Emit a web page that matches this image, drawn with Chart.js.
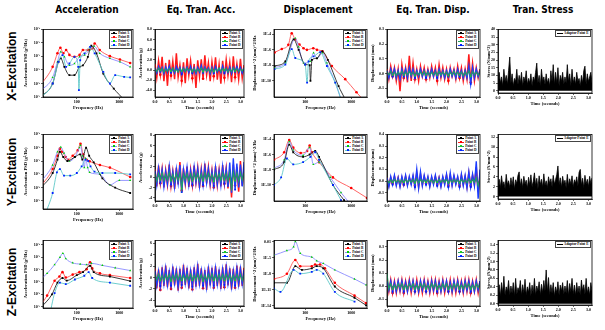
<!DOCTYPE html>
<html>
<head>
<meta charset="utf-8">
<script src="https://cdn.jsdelivr.net/npm/chart.js@4.4.1/dist/chart.umd.min.js"></script>
<style>
  html, body { margin: 0; padding: 0; background: #fff; }
  #page { position: relative; width: 605px; height: 330px; overflow: hidden; }
  canvas { position: absolute; }
  .col-title { position: absolute; top: 4px; font: bold 10px "Liberation Sans Narrow", "DejaVu Sans Condensed", sans-serif; transform: translateX(-50%); white-space: nowrap; }
  .row-title { position: absolute; font: bold 12px "Liberation Sans", Arial, sans-serif; transform: translate(-50%, -50%) rotate(-90deg); white-space: nowrap; }
  .legend { position: absolute; z-index: 5; border: 0.5px solid #444; background: #fff; padding: 0.5px 1px; font: bold 3.5px "Liberation Serif", serif; line-height: 4px; }
  .legend div { display: flex; align-items: center; white-space: nowrap; }
  .legend i { display: inline-block; position: relative; width: 6px; height: 0.8px; margin-right: 1px; }
  .legend i b { position: absolute; left: 2px; top: -0.7px; width: 2px; height: 2px; }
</style>
</head>
<body>
<div id="page">
  <div class="col-title" style="left:87px">Acceleration</div>
  <div class="col-title" style="left:201px">Eq. Tran. Acc.</div>
  <div class="col-title" style="left:318px">Displacement</div>
  <div class="col-title" style="left:433px">Eq. Tran. Disp.</div>
  <div class="col-title" style="left:543px">Tran. Stress</div>
  <div class="row-title" style="left:12px; top:66px">X-Excitation</div>
  <div class="row-title" style="left:12px; top:172px">Y-Excitation</div>
  <div class="row-title" style="left:12px; top:282px">Z-Excitation</div>
</div>
<script>
// ---- tick labels ----
const freqTicks = [100, 1000];
const timeTicks = [0, 0.5, 1, 1.5, 2, 2.5, 3];
const accPsdTicks = [1e-7, 1e-6, 1e-5, 1e-4, 1e-3, 1e-2];
const dispPsdTicksX = [1e-10, 1e-8, 1e-6, 1e-4];
const dispPsdTicksY = [1e-10, 1e-8, 1e-6, 1e-4];
const dispPsdTicksZ = [1e-14, 1e-11, 1e-8, 1e-5, 1e-2];
const eqAccTicksX = [-4, -2, 0, 2, 4, 6, 8];
const eqAccTicksY = [-4, -2, 0, 2, 4, 6, 8];
const eqAccTicksZ = [-4, -2, 0, 2, 4, 6];
const eqDispTicksX = [-0.1, 0, 0.1, 0.2, 0.3];
const eqDispTicksY = [-0.1, 0, 0.1, 0.2, 0.3, 0.4];
const eqDispTicksZ = [-0.1, 0, 0.1, 0.2, 0.3];
const stressTicksX = [0, 5, 10, 15, 20, 25, 30, 35, 40];
const stressTicksY = [0, 2, 4, 6, 8, 10, 12];
const stressTicksZ = [0, 0.2, 0.4, 0.6, 0.8, 1.0, 1.2, 1.4];

const pointNames = ['Point A', 'Point B', 'Point C', 'Point D'];
const stressNames = ['Adaptor Point E'];

// ---- acceleration PSD, [frequency Hz, g^2/Hz] ----
const accX_A = [[14, 1e-7], [27, 1e-6], [37, 4e-5], [42, 7.1e-5], [51, 1.7e-5], [67, 4.1e-6], [88, 4.1e-6], [116, 1.7e-5], [139, 2.2e-5], [182, 9.3e-5], [219, 6.2e-4], [290, 1.7e-4], [420, 5.4e-6], [740, 4.2e-7], [1300, 5.6e-8], [1800, 1e-8]];
const accX_B = [[14, 7.4e-7], [27, 1.7e-5], [35, 1.7e-4], [41, 4.4e-4], [48, 1.7e-4], [56, 3e-4], [67, 1.3e-4], [88, 9.3e-5], [116, 1.3e-4], [139, 3e-4], [182, 3e-4], [233, 3.9e-4], [263, 9.1e-4], [346, 3e-4], [600, 1.05e-4], [1035, 5.9e-5], [1800, 3.3e-5]];
const accX_C = [[14, 2.8e-7], [27, 2.8e-6], [35, 4e-5], [42, 2.2e-4], [51, 9.3e-5], [67, 2.2e-5], [88, 3e-5], [116, 9.3e-5], [152, 1.26e-4], [200, 3e-4], [255, 5.8e-4], [346, 1.7e-4], [600, 7.1e-5], [1035, 4e-5], [1800, 1.7e-5]];
const accX_D = [[14, 9e-8], [27, 1e-6], [37, 4e-5], [46, 1.26e-4], [56, 1.7e-5], [67, 3e-5], [88, 9.3e-5], [108, 1.7e-5], [112, 3.2e-7], [120, 5.2e-5], [152, 1.7e-4], [205, 5.1e-4], [263, 1.7e-4], [420, 7.2e-6], [600, 1e-6], [800, 4.1e-6], [1300, 3.1e-6], [1800, 2.8e-6]];

const accY_A = [[14, 9e-7], [27, 1.26e-5], [35, 1.26e-4], [40, 5e-4], [48, 2e-4], [60, 1e-4], [90, 2e-4], [120, 3.2e-4], [135, 1.26e-4], [165, 1e-3], [195, 2.5e-4], [250, 8e-5], [400, 5e-6], [800, 1e-6], [1800, 4e-7]];
const accY_B = [[14, 1.2e-6], [27, 2.5e-5], [35, 2.5e-4], [40, 8.5e-4], [45, 5e-4], [55, 2e-4], [62, 1.26e-4], [80, 2.5e-4], [105, 6.3e-4], [122, 1.95e-3], [140, 3.2e-4], [170, 1.26e-4], [200, 9.5e-5], [350, 5e-5], [600, 3.2e-5], [1800, 6.3e-6]];
const accY_C = [[14, 2.5e-6], [27, 5e-5], [35, 5e-4], [42, 1.1e-3], [50, 4e-4], [67, 1e-4], [90, 2e-4], [115, 1e-3], [122, 1.5e-3], [135, 2.5e-4], [150, 3.2e-5], [160, 1.6e-4], [180, 3.2e-5], [200, 1.4e-5], [350, 1e-5], [600, 1.6e-6], [1000, 3.5e-6], [1800, 3.5e-6]];
const accY_D = [[18, 1e-8], [27, 4e-7], [34, 1.4e-5], [40, 2.5e-5], [50, 8e-6], [70, 8e-6], [100, 1.26e-5], [130, 4e-5], [160, 1.26e-4], [185, 1e-4], [210, 4e-5], [260, 1.6e-5], [400, 1.26e-5], [800, 1.26e-5], [1800, 1e-5]];

const accZ_A = [[14, 8e-8], [26, 1e-6], [35, 8.9e-6], [46, 2.1e-5], [58, 1.3e-5], [100, 3.6e-5], [140, 6.3e-5], [205, 2e-4], [250, 6.3e-5], [600, 2.8e-5], [1800, 1.2e-5]];
const accZ_B = [[14, 1.26e-7], [20, 8e-7], [30, 1.26e-5], [39, 2.8e-5], [46, 6.3e-5], [55, 2.3e-5], [80, 4e-5], [115, 6.3e-5], [170, 1.1e-4], [205, 4e-4], [230, 1.26e-4], [350, 5e-5], [600, 3.6e-5], [1800, 2.1e-5]];
const accZ_C = [[14, 1.6e-5], [20, 5e-5], [30, 2.5e-4], [40, 1e-3], [47, 2.1e-3], [55, 7.9e-4], [80, 3.5e-4], [120, 2.8e-4], [170, 2.5e-4], [220, 3.2e-4], [400, 2.2e-4], [800, 1.4e-4], [1800, 8.5e-5]];
const accZ_D = [[22, 1e-8], [30, 1.26e-6], [40, 8.9e-6], [55, 6.8e-6], [90, 1.6e-5], [150, 3.2e-5], [190, 6.3e-5], [230, 2.1e-5], [600, 8.9e-6], [1800, 5e-6]];

// ---- displacement PSD, [frequency Hz, mm^2/Hz] ----
const dispX_A = [[21.6, 7.9e-9], [37, 3.2e-8], [56, 2.3e-5], [72, 1e-6], [100, 1.26e-8], [125, 1e-8], [130, 1e-10], [140, 5e-8], [180, 8e-8], [235, 6.3e-7], [310, 5e-8], [530, 2e-11], [740, 4e-13]];
const dispX_B = [[21.6, 4.6e-7], [31, 1.3e-6], [43, 4.4e-6], [51, 1.35e-4], [60, 2.3e-5], [75, 5e-6], [92, 1.6e-6], [109, 1e-6], [150, 1.6e-6], [180, 1e-6], [238, 6.3e-7], [380, 8e-9], [740, 1.6e-10], [1300, 3.2e-12], [2200, 1e-13]];
const dispX_C = [[21.6, 5e-9], [37, 2e-8], [61, 3.2e-5], [72, 2.5e-6], [92, 2e-8], [128, 3.2e-8], [152, 4e-7], [179, 8e-8], [238, 4e-7], [296, 2e-8], [450, 5.6e-11], [600, 4e-13]];
const dispX_D = [[21.6, 3.2e-9], [37, 1.26e-8], [51, 1.26e-6], [61, 8.7e-8], [100, 1.26e-8], [110, 5.6e-11], [118, 3.2e-8], [152, 1.4e-7], [212, 5e-7], [296, 8e-9], [450, 5.6e-11], [600, 4e-13]];

const dispY_A = [[21, 1e-8], [35, 1e-7], [45, 2e-5], [55, 2e-6], [90, 5e-7], [125, 1e-6], [165, 3e-6], [200, 5e-7], [400, 1e-10], [700, 1e-12]];
const dispY_B = [[21, 2e-7], [35, 2e-6], [45, 8e-5], [55, 8e-6], [80, 1.6e-6], [110, 3e-6], [125, 1.5e-5], [140, 2e-6], [200, 1e-7], [400, 1e-9], [1000, 4e-11], [2200, 2e-12]];
const dispY_C = [[21, 1.5e-8], [35, 2e-7], [45, 5e-5], [55, 4e-6], [90, 8e-7], [125, 8e-6], [150, 5e-8], [200, 1e-7], [350, 1e-9], [600, 1e-11], [900, 5e-13]];
const dispY_D = [[21, 1e-10], [30, 1e-9], [40, 3e-7], [55, 5e-8], [90, 1e-7], [130, 5e-7], [165, 2e-6], [200, 2e-7], [400, 1e-10], [600, 1e-12]];

const dispZ_A = [[21, 2e-10], [40, 2e-10], [61, 2.5e-7], [85, 5e-8], [139, 1e-7], [178, 2.5e-7], [247, 1e-7], [440, 4e-11], [1180, 3.2e-13], [2100, 1.26e-14]];
const dispZ_B = [[21, 1e-9], [40, 1e-8], [61, 3.5e-6], [78, 2.5e-7], [139, 2.5e-7], [164, 5e-7], [210, 5e-7], [268, 1e-7], [440, 2e-10], [1180, 8e-13], [2100, 3.2e-14]];
const dispZ_C = [[21, 2.8e-5], [40, 2e-4], [56, 1e-3], [61, 1e-2], [78, 6.3e-5], [139, 1.26e-5], [178, 2.5e-6], [247, 8e-7], [440, 5e-8], [1180, 1e-9], [2100, 8e-11]];
const dispZ_D = [[21, 1.8e-11], [29, 4e-12], [56, 5e-8], [78, 1e-8], [139, 2.2e-8], [178, 5e-8], [247, 1e-8], [440, 4e-12], [1180, 6.3e-14]];

// ---- equivalent transient acceleration (g), samples over 0..3.12 s ----
const eqAccX_A = [0.1, -0.2, 0.2, -0.1, 0.2, -0.2, 0.1, -0.3, 0.2, -0.1, 0.2, -0.2, 0.3, -0.1, 0.1, -0.2, 0.2, -0.2, 0.2, -0.1, 0.2, -0.1, 0.1, -0.3, 0.2, -0.1, 0.2, -0.2, 0.2, -0.1, 0.1, -0.2, 0.2, -0.1, 0.2, -0.2, 0.1, -0.2, 0.2, -0.1, 0.2, -0.1, 0.1, -0.2, 0.3, -0.1, 0.1, -0.2, 0.2, -0.1, 0.1];
const eqAccX_B = [1.2, -1.5, 1.8, -0.9, 2.6, -2.2, 1.4, -3.1, 2.0, -1.1, 1.7, -1.8, 3.3, -1.4, 1.0, -2.1, 1.5, -2.6, 2.3, -1.0, 1.8, -1.6, 1.2, -3.5, 1.9, -1.3, 2.1, -1.7, 2.9, -1.0, 1.4, -2.2, 1.6, -1.2, 2.5, -1.9, 1.1, -2.7, 1.8, -1.5, 2.0, -1.1, 1.5, -2.4, 2.7, -1.4, 1.2, -1.8, 2.2, -1.6, 1.0];
const eqAccX_C = [0.2, -0.3, 0.4, -0.1, 0.3, -0.4, 0.2, -0.3, 0.3, -0.2, 0.4, -0.3, 0.1, -0.4, 0.3, -0.2, 0.3, -0.3, 0.4, -0.1, 0.2, -0.3, 0.3, -0.4, 0.2, -0.2, 0.4, -0.3, 0.3, -0.2, 0.2, -0.4, 0.3, -0.3, 0.2, -0.2, 0.4, -0.3, 0.3, -0.1, 0.3, -0.4, 0.2, -0.3, 0.4, -0.2, 0.3, -0.3, 0.2, -0.2, 0.3];
const eqAccX_D = [0.4, -0.6, 0.7, -0.3, 0.5, -0.7, 0.6, -0.4, 0.8, -0.5, 0.3, -0.6, 0.7, -0.3, 0.5, -0.8, 0.4, -0.3, 0.6, -0.5, 0.7, -0.6, 0.4, -0.7, 0.5, -0.4, 0.9, -0.5, 0.6, -0.3, 0.4, -0.7, 0.5, -0.6, 0.7, -0.4, 0.3, -0.5, 0.8, -0.6, 0.4, -0.5, 0.6, -0.7, 0.5, -0.3, 0.7, -0.4, 0.5, -0.6, 0.4];

const eqAccY_A = [0.3, -0.4, 0.4, -0.3, 0.5, -0.4, 0.3, -0.4, 0.5, -0.3, 0.4, -0.5, 0.3, -0.4, 0.6, -0.7, 0.4, -0.3, 0.4, -0.4, 0.3, -0.4, 0.5, -0.3, 0.4, -0.5, 0.3, -0.4, 0.5, -0.3, 0.4, -0.3, 0.4, -0.5, 0.4, -0.3, 0.3, -0.4, 0.5, -0.3, 0.4, -0.5, 0.6, -0.8, 0.7, -0.4, 0.5, -0.5, 0.6, -0.4, 0.5];
const eqAccY_B = [1.5, -1.8, 2.2, -1.2, 1.6, -2.0, 1.3, -1.5, 2.4, -1.7, 1.1, -2.3, 1.8, -1.4, 2.9, -2.6, 1.7, -1.3, 2.0, -1.9, 1.4, -1.6, 2.2, -1.1, 1.8, -2.1, 1.5, -1.7, 2.6, -1.2, 1.9, -1.5, 1.3, -2.0, 2.1, -1.6, 1.4, -1.8, 2.3, -1.3, 1.7, -2.2, 1.5, -3.9, 2.4, -1.6, 1.9, -2.8, 3.1, -1.7, 1.6];
const eqAccY_C = [0.6, -0.8, 0.7, -0.5, 0.8, -0.7, 0.5, -0.6, 0.9, -0.7, 0.5, -0.8, 0.7, -0.6, 0.8, -2.2, 0.6, -0.5, 0.7, -0.8, 0.6, -0.7, 0.8, -0.5, 0.7, -0.8, 0.6, -0.7, 0.9, -0.5, 0.7, -0.6, 0.5, -0.8, 0.7, -0.6, 0.6, -0.7, 0.8, -0.5, 0.7, -0.8, 0.9, -2.6, 1.0, -0.7, 0.8, -0.8, 0.9, -0.6, 0.8];
const eqAccY_D = [1.2, -1.5, 1.7, -1.0, 1.4, -1.8, 1.1, -1.3, 2.0, -1.4, 1.0, -1.9, 1.5, -1.2, 2.3, -2.9, 1.4, -1.1, 1.8, -1.5, 1.2, -1.4, 1.9, -1.0, 1.6, -1.8, 1.3, -1.5, 2.0, -1.1, 1.6, -1.3, 1.1, -1.7, 1.8, -1.4, 1.2, -1.6, 2.0, -1.2, 1.5, -1.9, 2.8, -3.0, 3.6, -2.4, 2.6, -2.0, 2.4, -1.8, 2.9];

const eqAccZ_A = [0.3, -0.2, 0.3, -0.3, 0.2, -0.3, 0.3, -0.2, 0.2, -0.3, 0.3, -0.2, 0.3, -0.3, 0.2, -0.3, 0.3, -0.2, 0.3, -0.3, 0.2, -0.3, 0.3, -0.2, 0.4, -0.2, 0.3, -0.3, 0.2, -0.3, 0.3, -0.2, 0.3, -0.3, 0.3, -0.2, 0.2, -0.3, 0.3, -0.3, 0.3, -0.2, 0.3, -0.3, 0.2, -0.3, 0.3, -0.2, 0.3, -0.2, 0.3];
const eqAccZ_B = [1.6, -1.9, 1.4, -2.2, 1.8, -1.5, 2.1, -1.7, 1.3, -2.0, 1.9, -1.4, 1.6, -2.3, 1.5, -1.8, 2.2, -1.3, 1.7, -1.9, 1.4, -2.1, 1.8, -1.6, 2.4, -1.5, 1.6, -1.9, 1.3, -2.2, 1.9, -1.4, 1.7, -1.8, 2.0, -1.5, 1.4, -2.0, 1.8, -1.7, 2.3, -1.4, 1.6, -2.1, 1.5, -1.8, 2.1, -1.6, 1.9, -1.5, 1.7];
const eqAccZ_C = [0.5, -0.4, 0.6, -0.5, 0.4, -0.6, 0.5, -0.4, 0.5, -0.6, 0.4, -0.5, 0.6, -0.4, 0.5, -0.5, 0.4, -0.6, 0.5, -0.4, 0.6, -0.5, 0.4, -0.5, 0.6, -0.4, 0.5, -0.6, 0.4, -0.5, 0.5, -0.4, 0.6, -0.5, 0.4, -0.6, 0.5, -0.4, 0.5, -0.5, 0.6, -0.4, 0.5, -0.6, 0.4, -0.5, 0.5, -0.4, 0.6, -0.5, 0.4];
const eqAccZ_D = [1.2, -1.4, 1.0, -1.5, 1.3, -1.1, 1.6, -1.3, 1.0, -1.4, 1.5, -1.0, 1.2, -1.7, 1.1, -1.3, 1.6, -1.0, 1.3, -1.4, 1.1, -1.6, 1.4, -1.2, 1.9, -1.1, 1.2, -1.4, 1.0, -1.7, 1.5, -1.1, 1.3, -1.4, 1.6, -1.2, 1.1, -1.5, 1.4, -1.3, 1.8, -1.1, 1.2, -1.6, 1.1, -1.4, 1.6, -1.2, 1.5, -1.1, 1.3];

// ---- equivalent transient displacement (mm) ----
const eqDispX_A = [0.01, -0.01, 0.01, -0.01, 0.01, -0.01, 0.01, -0.02, 0.01, -0.01, 0.01, -0.01, 0.02, -0.01, 0.01, -0.01, 0.01, -0.01, 0.01, -0.01, 0.01, -0.01, 0.01, -0.01, 0.01, -0.01, 0.01, -0.01, 0.01, -0.01, 0.01, -0.01, 0.01, -0.01, 0.01, -0.01, 0.01, -0.01, 0.01, -0.01, 0.01, -0.01, 0.01, -0.01, 0.02, -0.02, 0.01, -0.01, 0.01, -0.01, 0.01];
const eqDispX_B = [0.03, -0.04, 0.05, -0.02, 0.04, -0.05, 0.03, -0.12, 0.06, -0.03, 0.04, -0.06, 0.12, -0.05, 0.07, -0.04, 0.03, -0.05, 0.05, -0.02, 0.04, -0.04, 0.03, -0.03, 0.05, -0.02, 0.04, -0.05, 0.06, -0.03, 0.04, -0.04, 0.03, -0.05, 0.04, -0.02, 0.03, -0.04, 0.05, -0.03, 0.04, -0.05, 0.03, -0.04, 0.13, -0.06, 0.07, -0.05, 0.04, -0.03, 0.03];
const eqDispX_C = [0.01, -0.01, 0.015, -0.01, 0.01, -0.015, 0.01, -0.01, 0.015, -0.01, 0.01, -0.01, 0.015, -0.01, 0.01, -0.015, 0.01, -0.01, 0.01, -0.01, 0.015, -0.01, 0.01, -0.015, 0.01, -0.01, 0.01, -0.01, 0.015, -0.01, 0.01, -0.01, 0.01, -0.015, 0.01, -0.01, 0.015, -0.01, 0.01, -0.01, 0.01, -0.015, 0.01, -0.01, 0.02, -0.02, 0.015, -0.01, 0.01, -0.01, 0.01];
const eqDispX_D = [0.02, -0.03, 0.03, -0.02, 0.03, -0.03, 0.02, -0.04, 0.03, -0.02, 0.03, -0.03, 0.04, -0.02, 0.03, -0.03, 0.02, -0.02, 0.03, -0.02, 0.02, -0.03, 0.02, -0.02, 0.03, -0.02, 0.02, -0.03, 0.03, -0.02, 0.02, -0.03, 0.02, -0.02, 0.03, -0.02, 0.02, -0.03, 0.03, -0.02, 0.02, -0.03, 0.02, -0.03, 0.05, -0.07, 0.04, -0.03, 0.03, -0.02, 0.02];

const eqDispY_A = [0.01, -0.01, 0.01, -0.01, 0.01, -0.01, 0.01, -0.01, 0.01, -0.01, 0.01, -0.01, 0.01, -0.01, 0.01, -0.01, 0.02, -0.01, 0.01, -0.01, 0.01, -0.01, 0.01, -0.01, 0.01, -0.01, 0.01, -0.01, 0.01, -0.01, 0.01, -0.01, 0.01, -0.01, 0.01, -0.01, 0.01, -0.01, 0.01, -0.01, 0.01, -0.01, 0.01, -0.01, 0.02, -0.01, 0.01, -0.01, 0.03, -0.03, 0.02];
const eqDispY_B = [0.03, -0.04, 0.03, -0.02, 0.04, -0.03, 0.03, -0.04, 0.03, -0.03, 0.04, -0.03, 0.03, -0.02, 0.04, -0.04, 0.07, -0.05, 0.06, -0.03, 0.04, -0.02, 0.03, -0.04, 0.03, -0.02, 0.04, -0.03, 0.03, -0.04, 0.03, -0.02, 0.05, -0.04, 0.05, -0.03, 0.04, -0.02, 0.03, -0.04, 0.05, -0.03, 0.04, -0.05, 0.07, -0.04, 0.05, -0.03, 0.12, -0.09, 0.06];
const eqDispY_C = [0.01, -0.015, 0.01, -0.01, 0.015, -0.01, 0.01, -0.015, 0.01, -0.01, 0.015, -0.01, 0.01, -0.01, 0.015, -0.015, 0.02, -0.015, 0.015, -0.01, 0.01, -0.01, 0.015, -0.01, 0.01, -0.015, 0.01, -0.01, 0.015, -0.01, 0.01, -0.01, 0.015, -0.015, 0.01, -0.01, 0.015, -0.01, 0.01, -0.015, 0.015, -0.01, 0.01, -0.015, 0.02, -0.01, 0.015, -0.01, 0.03, -0.04, 0.02];
const eqDispY_D = [0.03, -0.05, 0.04, -0.03, 0.05, -0.04, 0.03, -0.05, 0.04, -0.03, 0.05, -0.04, 0.04, -0.03, 0.05, -0.05, 0.10, -0.06, 0.08, -0.04, 0.05, -0.03, 0.04, -0.05, 0.04, -0.03, 0.05, -0.04, 0.03, -0.05, 0.04, -0.03, 0.06, -0.05, 0.07, -0.04, 0.05, -0.03, 0.04, -0.05, 0.06, -0.04, 0.05, -0.06, 0.08, -0.05, 0.06, -0.04, 0.17, -0.15, 0.10];

const eqDispZ_A = [0.02, -0.01, 0.01, -0.01, 0.01, -0.01, 0.01, -0.01, 0.01, -0.01, 0.01, -0.01, 0.01, -0.01, 0.01, -0.01, 0.01, -0.01, 0.01, -0.01, 0.01, -0.01, 0.01, -0.01, 0.01, -0.01, 0.01, -0.01, 0.01, -0.01, 0.01, -0.01, 0.01, -0.01, 0.01, -0.01, 0.01, -0.01, 0.01, -0.01, 0.01, -0.01, 0.01, -0.01, 0.01, -0.01, 0.01, -0.01, 0.01, -0.01, 0.01];
const eqDispZ_B = [0.05, -0.04, 0.05, -0.05, 0.04, -0.05, 0.04, -0.04, 0.05, -0.05, 0.04, -0.04, 0.05, -0.05, 0.04, -0.04, 0.05, -0.05, 0.04, -0.05, 0.05, -0.04, 0.04, -0.05, 0.05, -0.04, 0.05, -0.05, 0.04, -0.04, 0.05, -0.05, 0.04, -0.04, 0.05, -0.05, 0.04, -0.05, 0.05, -0.04, 0.04, -0.05, 0.05, -0.04, 0.05, -0.05, 0.04, -0.04, 0.05, -0.05, 0.04];
const eqDispZ_C = [0.10, -0.02, 0.02, -0.02, 0.01, -0.02, 0.02, -0.01, 0.02, -0.02, 0.01, -0.02, 0.02, -0.01, 0.02, -0.02, 0.01, -0.02, 0.02, -0.01, 0.02, -0.02, 0.01, -0.02, 0.02, -0.01, 0.02, -0.02, 0.01, -0.02, 0.02, -0.01, 0.02, -0.02, 0.01, -0.02, 0.02, -0.01, 0.02, -0.02, 0.01, -0.02, 0.02, -0.01, 0.02, -0.02, 0.01, -0.02, 0.02, -0.01, 0.02];
const eqDispZ_D = [0.04, -0.03, 0.04, -0.04, 0.03, -0.04, 0.04, -0.03, 0.04, -0.04, 0.03, -0.04, 0.04, -0.03, 0.04, -0.04, 0.03, -0.04, 0.04, -0.03, 0.04, -0.04, 0.03, -0.04, 0.04, -0.03, 0.04, -0.04, 0.03, -0.04, 0.04, -0.03, 0.04, -0.04, 0.03, -0.04, 0.04, -0.03, 0.04, -0.04, 0.03, -0.04, 0.04, -0.03, 0.04, -0.04, 0.03, -0.04, 0.04, -0.03, 0.04];

// ---- transient stress at adaptor point E (N/mm^2) ----
const stressX = [4, 12, 5, 9, 3, 14, 6, 10, 4, 13, 22, 5, 11, 3, 8, 6, 14, 4, 10, 5, 12, 3, 9, 6, 13, 4, 8, 5, 11, 3, 9, 6, 12, 18, 5, 10, 3, 14, 6, 9, 4, 11, 5, 8, 3, 13, 6, 17, 4, 12, 5, 15, 3, 10, 6, 12, 4, 9, 5, 17, 6, 11, 3, 14, 5, 9, 4, 12, 6, 8, 3, 10, 5, 13, 16, 4, 11, 6, 9, 12, 5];
const stressY = [2, 3.5, 1.8, 4.2, 2.2, 3, 1.6, 4.5, 2.4, 3.2, 1.8, 3.8, 2.2, 4, 1.5, 3.4, 2.6, 4.3, 5, 2.2, 3.6, 1.8, 4.1, 2.5, 3.3, 1.7, 3.9, 2.3, 4.4, 2, 3.1, 4.8, 2.2, 3.7, 1.6, 4.2, 2.4, 3.5, 1.9, 4.6, 2.3, 3.2, 1.8, 4, 2.6, 3.6, 2, 4.3, 2.5, 3.4, 4.4, 6.2, 2.4, 3.8, 1.9, 4.1, 2.6, 3.3, 1.8, 4.5, 2.2, 3.6, 2.5, 4.2, 1.9, 3.4, 2.7, 4, 2.1, 4.9, 5.5, 2.3, 3.7, 1.8, 4.3, 2.5, 3.5, 2, 4.1, 2.6, 3.8];
const stressZ = [0.2, 0.45, 0.18, 0.5, 0.25, 0.65, 0.2, 0.4, 0.28, 0.55, 0.2, 0.42, 0.25, 0.5, 0.18, 0.6, 0.22, 0.38, 0.3, 0.55, 0.2, 0.45, 0.25, 0.58, 0.2, 0.4, 0.27, 0.5, 0.19, 0.44, 0.24, 0.6, 0.2, 0.42, 0.3, 0.52, 0.2, 0.46, 0.26, 0.55, 0.3, 0.8, 0.28, 0.62, 0.2, 0.45, 0.25, 0.5, 0.18, 0.4, 0.26, 0.52, 0.2, 0.44, 0.3, 0.5, 0.22, 0.42, 0.25, 0.55, 0.2, 0.48, 0.28, 0.6, 0.22, 0.44, 0.2, 0.5, 0.26, 0.42, 0.2, 0.56, 0.3, 0.45, 0.22, 0.6, 0.25, 0.4, 0.2, 0.5, 0.3];

const T_END = 3.12;

// ---- layout ----
const page = document.getElementById('page');
const X_AXIS_H = 14;
const colLeft = [43, 155, 274, 387, 498];
const colRight = [133, 244, 367, 480, 592];
const yAxisW = [20, 17, 22, 17, 12];
const rowTop = [28, 133, 239];
const rowBottom = [[97, 97, 97, 97, 93], [209, 201, 201, 201, 199], [308, 306, 308, 306, 305]];

const TICK_FONT = { family: 'Liberation Serif', size: 4, weight: 'bold' };
const TITLE_FONT = { family: 'Liberation Serif', size: 4.5, weight: 'bold' };

// line colour, marker colour, marker shape, draw order (higher = behind)
const PSD_STYLE = {
  A: { line: '#222222', mark: '#000000', shape: 'rect', order: 2 },
  B: { line: '#ff5555', mark: '#ff0000', shape: 'circle', order: 4 },
  C: { line: '#8c8cff', mark: '#00cc00', shape: 'triangle', order: 3 },
  D: { line: '#5ec8c8', mark: '#0022ff', shape: 'rect', order: 1 }
};
const TRAN_STYLE = {
  A: { line: '#000000', mark: '#000000', shape: 'rect', order: 4, width: 1.0 },
  B: { line: '#ff1a1a', mark: '#ff0000', shape: 'circle', order: 3, width: 1.5 },
  C: { line: '#22a060', mark: '#22cc22', shape: 'triangle', order: 1, width: 1.1 },
  D: { line: '#1a3cff', mark: '#0022ff', shape: 'rect', order: 2, width: 1.4 }
};

const SUP = { '-': '\u207B', '0': '\u2070', '1': '\u00B9', '2': '\u00B2', '3': '\u00B3', '4': '\u2074', '5': '\u2075', '6': '\u2076', '7': '\u2077', '8': '\u2078', '9': '\u2079' };
const powTen = v => '10' + String(Math.round(Math.log10(v))).split('').map(c => SUP[c]).join('');
const sciE = v => { const e = Math.round(Math.log10(v)); return e === -2 ? '0.01' : '1E' + e; };
const plain = v => String(v);
const fix1 = v => v.toFixed(1);

const frameBox = {
  id: 'frameBox',
  afterDatasetsDraw(chart) {
    const { ctx, chartArea: a } = chart;
    ctx.save();
    ctx.strokeStyle = '#000';
    ctx.lineWidth = 0.8;
    ctx.strokeRect(a.left, a.top, a.right - a.left, a.bottom - a.top);
    ctx.restore();
  }
};

function axis(type, min, max, tickList, fmt, title) {
  return {
    type, min, max,
    afterBuildTicks: s => { s.ticks = tickList.map(value => ({ value })); },
    ticks: { font: TICK_FONT, color: '#000', padding: 1, autoSkip: false, maxRotation: 0, callback: v => fmt(v) },
    grid: { drawOnChartArea: false, tickLength: 2, color: '#000', lineWidth: 0.6 },
    border: { color: '#000', width: 0.8 },
    title: { display: true, text: title, font: TITLE_FONT, color: '#000', padding: 0 }
  };
}

function curve(points, key) {
  const st = PSD_STYLE[key];
  return {
    data: points.map(([x, y]) => ({ x, y })),
    borderColor: st.line, borderWidth: 0.9,
    pointBackgroundColor: st.mark, pointBorderColor: st.mark, pointBorderWidth: 0,
    pointStyle: st.shape, pointRadius: 1.3,
    cubicInterpolationMode: 'monotone', order: st.order
  };
}

function trace(values, key) {
  const st = TRAN_STYLE[key];
  const dt = T_END / (values.length - 1);
  return {
    data: values.map((y, i) => ({ x: i * dt, y })),
    borderColor: st.line, borderWidth: st.width,
    pointBackgroundColor: st.mark, pointBorderColor: st.mark, pointBorderWidth: 0,
    pointStyle: st.shape, pointRadius: ctx => (ctx.dataIndex % 6 === 3 ? 1.3 : 0),
    order: st.order
  };
}

function stressTrace(values) {
  const dt = T_END / (values.length - 1);
  return {
    data: values.map((y, i) => ({ x: i * dt, y })),
    borderColor: '#000', borderWidth: 0.8, backgroundColor: '#000',
    fill: 'origin', pointRadius: 0
  };
}

function makePanel(col, row, datasets, xScale, yScale) {
  const canvas = document.createElement('canvas');
  const left = colLeft[col] - yAxisW[col];
  const top = rowTop[row] - 2;
  canvas.width = colRight[col] + 3 - left;
  canvas.height = rowBottom[row][col] + X_AXIS_H - top;
  canvas.style.left = left + 'px';
  canvas.style.top = top + 'px';
  page.appendChild(canvas);
  xScale.afterFit = s => { s.height = X_AXIS_H; };
  yScale.afterFit = s => { s.width = yAxisW[col]; };
  return new Chart(canvas.getContext('2d'), {
    type: 'line',
    data: { datasets },
    options: {
      responsive: false, animation: false, devicePixelRatio: 1, events: [],
      layout: { padding: { top: 2, right: 3, left: 0, bottom: 0 }, autoPadding: false },
      plugins: { legend: { display: false }, tooltip: { enabled: false } },
      scales: { x: xScale, y: yScale }
    },
    plugins: [frameBox]
  });
}

function addLegend(col, row, names, styles) {
  const box = document.createElement('div');
  box.className = 'legend';
  box.style.right = (605 - colRight[col] + 1.5) + 'px';
  box.style.top = (rowTop[row] + 1.5) + 'px';
  names.forEach((name, i) => {
    const st = styles[i];
    const item = document.createElement('div');
    const icon = document.createElement('i');
    icon.style.background = st.line;
    if (st.mark) {
      const dot = document.createElement('b');
      dot.style.background = st.mark;
      icon.appendChild(dot);
    }
    item.appendChild(icon);
    item.appendChild(document.createTextNode(name));
    box.appendChild(item);
  });
  page.appendChild(box);
}

// --- Acceleration PSD ---
const accSets = [[accX_A, accX_B, accX_C, accX_D], [accY_A, accY_B, accY_C, accY_D], [accZ_A, accZ_B, accZ_C, accZ_D]];
const accYRange = [[1e-7, 1e-2], [2.5e-8, 1e-2], [8e-8, 2.3e-2]];
accSets.forEach((s, row) => {
  makePanel(0, row, ['A', 'B', 'C', 'D'].map((k, i) => curve(s[i], k)),
    axis('logarithmic', 16, 2100, freqTicks, plain, 'Frequency (Hz)'),
    axis('logarithmic', accYRange[row][0], accYRange[row][1], accPsdTicks, powTen, 'Acceleration PSD (g\u00B2/Hz)'));
});

// --- Displacement PSD ---
const dispSets = [[dispX_A, dispX_B, dispX_C, dispX_D], [dispY_A, dispY_B, dispY_C, dispY_D], [dispZ_A, dispZ_B, dispZ_C, dispZ_D]];
const dispYRange = [[7.9e-13, 4.4e-4], [7.9e-13, 4.4e-4], [4e-15, 1.6e-2]];
const dispTicks = [dispPsdTicksX, dispPsdTicksY, dispPsdTicksZ];
dispSets.forEach((s, row) => {
  makePanel(2, row, ['A', 'B', 'C', 'D'].map((k, i) => curve(s[i], k)),
    axis('logarithmic', 21, 2200, freqTicks, plain, 'Frequency (Hz)'),
    axis('logarithmic', dispYRange[row][0], dispYRange[row][1], dispTicks[row], sciE, 'Displacement ^2 (mm)^2/Hz'));
});

// --- Equivalent transient acceleration ---
const eqAccSets = [[eqAccX_A, eqAccX_B, eqAccX_C, eqAccX_D], [eqAccY_A, eqAccY_B, eqAccY_C, eqAccY_D], [eqAccZ_A, eqAccZ_B, eqAccZ_C, eqAccZ_D]];
const eqAccRange = [[-5.3, 8], [-4.6, 8.2], [-5, 6.5]];
const eqAccTicks = [eqAccTicksX, eqAccTicksY, eqAccTicksZ];
const eqAccFmt = [fix1, plain, plain];
eqAccSets.forEach((s, row) => {
  makePanel(1, row, ['A', 'B', 'C', 'D'].map((k, i) => trace(s[i], k)),
    axis('linear', 0, T_END, timeTicks, fix1, 'Time (seconds)'),
    axis('linear', eqAccRange[row][0], eqAccRange[row][1], eqAccTicks[row], eqAccFmt[row], 'Acceleration (g)'));
});

// --- Equivalent transient displacement ---
const eqDispSets = [[eqDispX_A, eqDispX_B, eqDispX_C, eqDispX_D], [eqDispY_A, eqDispY_B, eqDispY_C, eqDispY_D], [eqDispZ_A, eqDispZ_B, eqDispZ_C, eqDispZ_D]];
const eqDispRange = [[-0.16, 0.3], [-0.17, 0.4], [-0.15, 0.35]];
const eqDispTicks = [eqDispTicksX, eqDispTicksY, eqDispTicksZ];
eqDispSets.forEach((s, row) => {
  makePanel(3, row, ['A', 'B', 'C', 'D'].map((k, i) => trace(s[i], k)),
    axis('linear', 0, T_END, timeTicks, fix1, 'Time (seconds)'),
    axis('linear', eqDispRange[row][0], eqDispRange[row][1], eqDispTicks[row], fix1, 'Displacement (mm)'));
});

// --- Transient stress ---
const stressSets = [stressX, stressY, stressZ];
const stressRange = [[-1.5, 40], [-0.5, 12.6], [-0.03, 1.5]];
const stressTicks = [stressTicksX, stressTicksY, stressTicksZ];
const stressFmt = [plain, plain, fix1];
stressSets.forEach((s, row) => {
  makePanel(4, row, [stressTrace(s)],
    axis('linear', 0, T_END, timeTicks, fix1, 'Time (seconds)'),
    axis('linear', stressRange[row][0], stressRange[row][1], stressTicks[row], stressFmt[row], 'Stress (N/mm^2)'));
});

// --- legends ---
const psdLegend = ['A', 'B', 'C', 'D'].map(k => PSD_STYLE[k]);
const tranLegend = ['A', 'B', 'C', 'D'].map(k => TRAN_STYLE[k]);
[0, 1, 2].forEach(row => {
  addLegend(0, row, pointNames, psdLegend);
  addLegend(1, row, pointNames, tranLegend);
  addLegend(2, row, pointNames, psdLegend);
  addLegend(3, row, pointNames, tranLegend);
  addLegend(4, row, stressNames, [{ line: '#000' }]);
});
</script>
</body>
</html>
